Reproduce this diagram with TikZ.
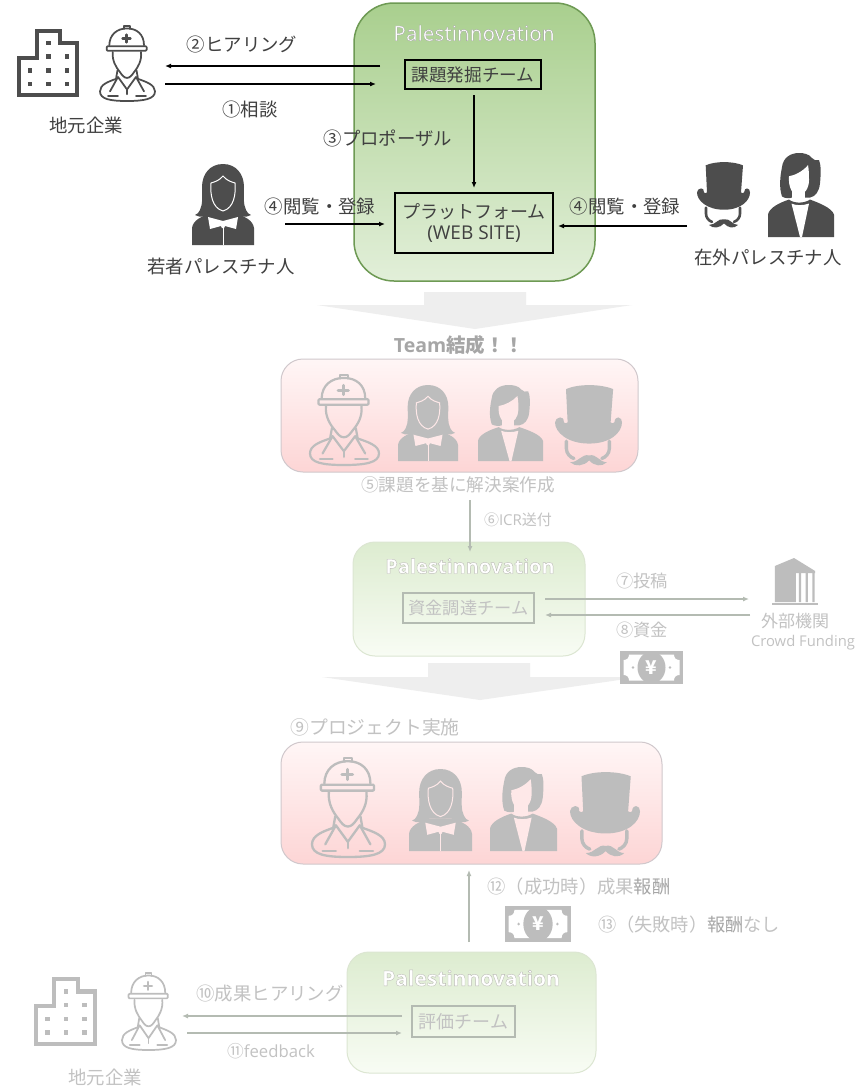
\documentclass[tikz,border=0pt]{standalone}
\usepackage{fontspec}
\setmainfont{Noto Sans CJK JP}
\newfontfamily\lat{Open Sans}
\usetikzlibrary{arrows.meta}
\definecolor{txtd}{HTML}{404040}
\definecolor{txtf}{HTML}{C2C2C2}
\definecolor{txtm}{HTML}{A6A6A6}
\definecolor{icd}{HTML}{4D4D4D}
\definecolor{icf}{HTML}{BDBDBD}
\definecolor{arrf}{HTML}{B4BBB2}
\definecolor{blk}{HTML}{EEEEEE}
\definecolor{gEdge}{HTML}{6E9A54}
\definecolor{gTop}{HTML}{A9CF8E}
\definecolor{gBot}{HTML}{E2EFD9}
\definecolor{gfEdge}{HTML}{DCE6D2}
\definecolor{gfTop}{HTML}{DDECD0}
\definecolor{gfBot}{HTML}{F8FCF4}
\definecolor{pEdge}{HTML}{D0C8CC}
\definecolor{pTop}{HTML}{FFF6F6}
\definecolor{pBot}{HTML}{FDD5D5}
\colorlet{icw}{white}
\tikzset{
  lab/.style={inner sep=0pt,font=\fontsize{18.4}{21}\selectfont,text=txtd,align=center},
  labf/.style={lab,text=txtf},
  labs/.style={labf,font=\fontsize{15}{17}\selectfont},
  conn/.style={draw=black,line width=1.2pt,-{Latex[length=6pt,width=5pt]}},
  connf/.style={draw=arrf,line width=1.3pt,-{Latex[length=6pt,width=5pt]}},
  panelG/.style={draw=gEdge,line width=1.5pt,inner sep=0pt,top color=gTop,bottom color=gBot,rounded corners=40pt},
  panelF/.style={draw=gfEdge,line width=1pt,inner sep=0pt,top color=gfTop,bottom color=gfBot,rounded corners=22pt},
  panelP/.style={draw=pEdge,line width=1pt,inner sep=0pt,top color=pTop,bottom color=pBot,rounded corners=22pt},
  teambox/.style={draw=black,line width=1.4pt,inner sep=0pt,font=\fontsize{17.6}{21}\selectfont,text=txtd,align=center},
  teamf/.style={teambox,draw=arrf,line width=1.6pt,text=txtf},
}
\newcommand\PTitleA[3]{\node[inner sep=0pt,text=white] (#1) at (#2) {\fontsize{#3}{20}\selectfont\lat
  \special{pdf:code 2 Tr 0.3 w 0.62 0.62 0.62 RG}Palestinnovation\special{pdf:code 0 Tr}};}
\newcommand\PTitleB[3]{\node[inner sep=0pt,text=white] (#1) at (#2) {\fontsize{#3}{20}\selectfont\lat\bfseries
  \special{pdf:code 2 Tr 0.4 w 0.74 0.74 0.72 RG}Palestinnovation\special{pdf:code 0 Tr}};}
\newcommand\iconBldg[5]{\begin{scope}[shift={(#1,#2)},xscale=#3/61,yscale=#4/67]
  \draw[#5,line width=4.2pt,miter limit=4] (2,28.5)--(19.5,28.5)--(19.5,2)--(42.5,2)--(42.5,14)--(59,14)--(59,65)--(2,65)--cycle;
  \foreach \p in {(31,14),(31,27),(49,27),(13,41),(31,41),(49,41),(13,54),(31,54),(49,54)}
    \fill[#5] \p ++(-2.1,-2.1) rectangle ++(4.2,4.2);
\end{scope}}
\newcommand\iconEng[5]{\begin{scope}[shift={(#1,#2)},xscale=#3/55,yscale=#4/78,line width={1.75pt*#3/55},draw=#5,line join=round,line cap=round]
  \draw (9.3,20) .. controls (9.5,9) and (17,2.5) .. (27,2.5) .. controls (37,2.5) and (44,9) .. (44,20);
  \draw (24,3)--(24,0)--(30,0)--(30,3);
  \draw[rounded corners=1pt] (6.7,21)--(46.7,21)--(46.7,25.7)--(6.7,25.7)--cycle;
  \draw[line width={2.4pt*#3/55}] (26.5,9)--(26.5,17) (22.5,13)--(30.5,13);
  \draw (12.7,27) .. controls (12,36) and (16,43) .. (20,48) .. controls (22,51) and (24,54) .. (27,54) .. controls (30,54) and (32,51) .. (34,48) .. controls (38,43) and (42,36) .. (41,27);
  \draw (17.5,46) -- (16,55) .. controls (8,58) and (0,61) .. (0,68) .. controls (0,76) and (10,78) .. (27,78) .. controls (44,78) and (55,76) .. (55,68) .. controls (55,61) and (46,58) .. (38,55) -- (36.5,46);
  \draw (10,68)--(18,53)--(27,66)--(36,53)--(44,68);
  \draw (8,73)--(18,73) (36,73)--(46,73);
  \draw (27,66)--(27,71);
\end{scope}}
\newcommand\iconGirl[5]{\begin{scope}[shift={(#1,#2)},xscale=#3/62,yscale=#4/81]
  \fill[#5] (31,0) .. controls (18,0) and (10,10) .. (10,23) .. controls (10,32) and (11,40) .. (8,46) .. controls (7,49) and (5,50) .. (3,51) .. controls (8,54) and (15,53) .. (20,49) -- (42,49) .. controls (47,53) and (54,54) .. (59,51) .. controls (57,50) and (55,49) .. (54,46) .. controls (51,40) and (52,32) .. (52,23) .. controls (52,10) and (44,0) .. (31,0) -- cycle;
  \draw[icw,line width=1pt,fill=#5] (31,12) .. controls (27,17) and (22,18) .. (19,19) .. controls (18,30) and (20,44) .. (31,47) .. controls (42,44) and (44,30) .. (43,19) .. controls (40,18) and (35,17) .. (31,12) -- cycle;
  \fill[#5] (0,81) -- (0,64) .. controls (1,56) and (10,52) .. (20,49) -- (42,49) .. controls (52,52) and (61,56) .. (62,64) -- (62,81) -- cycle;
  \fill[icw] (16,53) -- (31,57) -- (46,53) -- (44,65) -- (33,62) -- (32,64) -- (30,64) -- (29,62) -- (18,65) -- cycle;
  \draw[icw,line width=1pt] (31,60)--(31,81);
  \fill[#5] (26,49) .. controls (28,53) and (34,53) .. (36,49) -- cycle;
\end{scope}}
\newcommand\iconWoman[5]{\begin{scope}[shift={(#1,#2)},xscale=#3/66,yscale=#4/83]
  \fill[#5] (31,0) .. controls (22,0) and (15,5) .. (14,14) .. controls (12,24) and (11,34) .. (14,43) .. controls (17,45) and (22,45) .. (24,44) -- (42,44) .. controls (47,43) and (51,39) .. (52,30) .. controls (53,20) and (53,11) .. (51,7) .. controls (48,8) and (46,7) .. (44,5) .. controls (41,1) and (36,0) .. (31,0) -- cycle;
  \fill[icw] (21,23) .. controls (27,22) and (35,18) .. (40,12) .. controls (41,17) and (41,22) .. (41,27) .. controls (41,35) and (36,42) .. (30,42) .. controls (25,42) and (20,34) .. (21,23) -- cycle;
  \fill[icw] (24,38) rectangle (37,48);
  \fill[#5] (0,83) -- (0,61) .. controls (1,54) and (12,49) .. (21,46) .. controls (26,50) and (36,50) .. (42,46) .. controls (50,49) and (64,54) .. (66,61) -- (66,83) -- cycle;
  \fill[icw] (23.5,50) .. controls (28,52) and (35,52) .. (41,50) -- (34,83) -- (32,83) -- cycle;
\end{scope}}
\newcommand\iconHat[5]{\begin{scope}[shift={(#1,#2)},xscale=#3/53,yscale=#4/65]
  \fill[#5] (8.7,3.3) .. controls (18,-1) and (36,-1) .. (46,3.3) -- (44,30) .. controls (45,31) and (46,31) .. (47,30) .. controls (47,27) and (49,26) .. (50,26) .. controls (52,26) and (53,28) .. (53,30) .. controls (53,38) and (44,47) .. (27,47) .. controls (10,47) and (0,38) .. (0,30) .. controls (0,28) and (2,26) .. (4,26) .. controls (6,26) and (7,27) .. (7,30) .. controls (8,31) and (9,31) .. (10,30) -- cycle;
  \draw[#5,line width={2.6pt*#3/53},line cap=round] (9,45)--(9,51) .. controls (9,55) and (12,58) .. (15,59);
  \draw[#5,line width={2.6pt*#3/53},line cap=round] (43,45)--(43,51) .. controls (43,55) and (40,58) .. (37,59);
  \fill[#5] (12,62) .. controls (19,62) and (21,55) .. (27,56.5) .. controls (33,55) and (35,62) .. (41,62) .. controls (37,66) and (31,65) .. (27,60.5) .. controls (23,65) and (16,66) .. (12,62) -- cycle;
\end{scope}}
\newcommand\iconMoney[6]{\begin{scope}[shift={(#1,#2)},xscale=#3/63,yscale=#4/33]
  \fill[#5] (0,0) rectangle (63,33);
  \fill[white] (9,3.5) -- (54,3.5) .. controls (54,7) and (56,9) .. (59.5,9) -- (59.5,24) .. controls (56,24) and (54,26) .. (54,29.5) -- (9,29.5) .. controls (9,26) and (7,24) .. (3.5,24) -- (3.5,9) .. controls (7,9) and (9,7) .. (9,3.5) -- cycle;
  \fill[#5] (31.5,16.5) ellipse (14 and 16);
  \fill[#5] (13,16.5) circle (1.3) (50,16.5) circle (1.3);
\end{scope}\node[inner sep=0pt,text=white,font=\fontsize{19}{19}\selectfont\bfseries] (#6) at (#1+#3/2,#2+#4/2) {¥};}
\newcommand\iconOrg[5]{\begin{scope}[shift={(#1,#2)},xscale=#3/48,yscale=#4/47]
  \fill[#5] (3,8) -- (23,0) -- (45,13) -- (45,15) -- (25,15) -- (25,44) -- (3,44) -- cycle;
  \fill[#5] (28,15) rectangle (30.5,44) (35,15) rectangle (37.5,44) (42,15) rectangle (44.5,44);
  \fill[#5] (0,44.5) rectangle (48,47);
\end{scope}}
\begin{document}
\begin{tikzpicture}[x=1pt,y=-1pt]
\useasboundingbox[fill=white] (0,0) rectangle (865,1088);
% block arrows
\fill[blk] (424,292)--(526,292)--(526,305)--(632,305)--(475,329)--(317,305)--(424,305)--cycle;
\fill[blk] (428,663)--(530,663)--(530,677)--(640,677)--(480,700)--(322,677)--(428,677)--cycle;
% panels
\node[panelG,minimum width=241pt,minimum height=278pt] (pg1) at (474.5,142) {};
\node[panelP,minimum width=357pt,minimum height=113pt] (pp1) at (459.5,415.5) {};
\node[panelF,minimum width=232pt,minimum height=114pt] (pg2) at (469,599) {};
\node[panelP,minimum width=381pt,minimum height=122pt] (pp2) at (471.5,803) {};
\node[panelF,minimum width=249pt,minimum height=121pt] (pg3) at (471.5,1012.5) {};
\PTitleA{t1}{474,33}{20.8}
\PTitleB{t2}{470,566}{20}
\PTitleB{t3}{471,978}{21}
% team boxes
\node[teambox,minimum width=136pt,minimum height=29pt] (team1) at (473,74.5) {課題発掘チーム};
\node[teambox,minimum width=158pt,minimum height=60pt,font=\fontsize{18}{21}\selectfont] (plat) at (474,223) {プラットフォーム\\{\lat\fontsize{19}{21}\selectfont (WEB SITE)}};
\node[teamf,minimum width=131pt,minimum height=30pt,font=\fontsize{17.2}{21}\selectfont] (team2) at (468.5,608) {資金調達チーム};
\node[teamf,minimum width=103pt,minimum height=31pt,font=\fontsize{18}{21}\selectfont] (team3) at (463.5,1021.5) {評価チーム};
% labels top
\node[lab] (l2) at (242,45) {②ヒアリング};
\node[lab] (l1) at (250,110) {①相談};
\node[lab] (ll) at (86,125) {地元企業};
\node[lab] (l3) at (388,138) {③プロポーザル};
\node[lab] (l4a) at (320,207) {④閲覧・登録};
\node[lab] (l4b) at (625,207) {④閲覧・登録};
\node[lab] (ly) at (221,267) {若者パレスチナ人};
\node[lab] (lz) at (768,257) {在外パレスチナ人};
% labels faded
\node[lab,text=txtm,font=\fontsize{19.5}{21}\selectfont\lat\bfseries] (lteam) at (459,345) {Team{\rmfamily 結成！！}};
\node[labf,font=\fontsize{17.6}{21}\selectfont] (l5) at (458,485) {⑤課題を基に解決案作成};
\node[labs] (l6) at (518,520) {⑥{\lat ICR}送付};
\node[labf,font=\fontsize{17.2}{20}\selectfont] (l7) at (642,581) {⑦投稿};
\node[labf,font=\fontsize{17.2}{20}\selectfont] (l8) at (642,630) {⑧資金};
\node[labf,font=\fontsize{17}{20}\selectfont] (lo) at (795,621) {外部機関};
\node[labf,font=\fontsize{14.8}{20}\selectfont\lat] (lc) at (803,643) {Crowd Funding};
\node[labf,font=\fontsize{18.8}{21}\selectfont] (l9) at (375,727) {⑨プロジェクト実施};
\node[labf,font=\fontsize{18.3}{20}\selectfont] (l12) at (579,887) {⑫（成功時）成果{\color{txtm}報酬}};
\node[labf,font=\fontsize{18.2}{20}\selectfont] (l13) at (689,925) {⑬（失敗時）{\color{txtm}報酬}なし};
\node[labf,font=\fontsize{18.4}{20}\selectfont] (l10) at (270,994) {⑩成果ヒアリング};
\node[labf,font=\fontsize{16.7}{20}\selectfont] (l11) at (271,1051) {⑪{\lat feedback}};
\node[labf] (ll2) at (105,1077) {地元企業};
% icons
\iconBldg{17}{29}{62}{68}{icd}
\iconEng{100}{26}{55}{75}{icd}
\iconGirl{192}{164}{62}{81}{icd}
\iconHat{697}{162}{53}{66}{icd}
\iconWoman{768}{153}{66}{84}{icd}
\colorlet{icw}{pBot!55!white}
\iconEng{310}{375}{69}{90}{icf}
\iconGirl{398}{385}{60}{76}{icf}
\iconWoman{478}{385}{65}{76}{icf}
\iconHat{555}{385}{67}{81}{icf}
\iconEng{312}{758}{73}{99}{icf}
\iconGirl{409}{769}{63}{82}{icf}
\iconWoman{490}{767}{67}{84}{icf}
\iconHat{570}{772}{70}{85}{icf}
\iconOrg{772}{558}{46}{47}{icf}
\iconMoney{620}{651}{63}{33}{icf}{yen1}
\iconMoney{505}{906}{66}{36}{icf}{yen2}
\iconBldg{34}{977}{63}{69}{icf}
\iconEng{122}{973}{54}{77}{icf}
% connector ends
\coordinate (a1) at (380,66); \coordinate (a2) at (165,66);
\coordinate (b1) at (165,84); \coordinate (b2) at (376,84);
\coordinate (c1) at (285,224); \coordinate (c2) at (385,224);
\coordinate (d1) at (687,226); \coordinate (d2) at (558,226);
\coordinate (e1) at (474,95); \coordinate (e2) at (474,188);
\coordinate (f1) at (470,500); \coordinate (f2) at (470,552);
\coordinate (g1) at (545,599); \coordinate (g2) at (749,599);
\coordinate (h1) at (750,615); \coordinate (h2) at (545,615);
\coordinate (i1) at (469,942); \coordinate (i2) at (469,870);
\coordinate (j1) at (402,1016); \coordinate (j2) at (182,1016);
\coordinate (k1) at (187,1033); \coordinate (k2) at (402,1033);
\draw[conn] (a1) -- (a2);
\draw[conn] (b1) -- (b2);
\draw[conn] (c1) -- (c2);
\draw[conn] (d1) -- (d2);
\draw[conn] (e1) -- (e2);
\draw[connf] (f1) -- (f2);
\draw[connf] (g1) -- (g2);
\draw[connf] (h1) -- (h2);
\draw[connf] (i1) -- (i2);
\draw[connf] (j1) -- (j2);
\draw[connf] (k1) -- (k2);
\end{tikzpicture}
\end{document}
